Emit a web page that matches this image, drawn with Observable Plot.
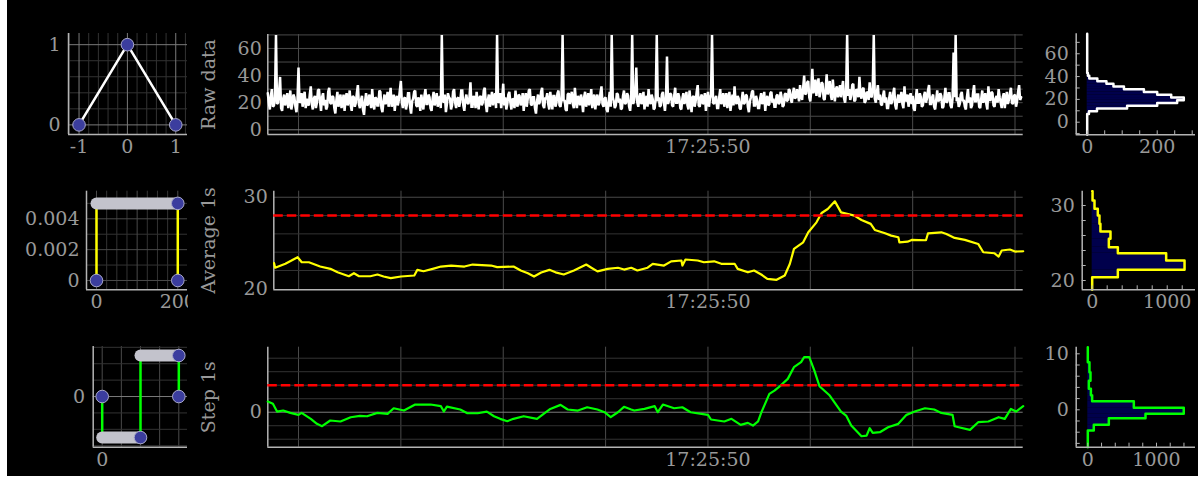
<!DOCTYPE html>
<html><head><meta charset="utf-8">
<script src="https://cdn.jsdelivr.net/npm/d3@7"></script>
<script src="https://cdn.jsdelivr.net/npm/@observablehq/plot@0.6"></script>
<style>
html,body{margin:0;padding:0;background:#fff;}
#stage{position:absolute;left:7px;top:0;width:1191px;height:476px;background:#000;overflow:hidden;}
</style></head>
<body><div id="stage"></div>
<script>
// ================= DATA =================
const rowLabels = ["Raw data", "Average 1s", "Step 1s"];
const timeTickValues = [0];
const timeTickLabels = ["17:25:50"];
const secondGrid = [-4, -3, -2, -1, 0, 1, 2, 3];

// raw samples (value per sample, sample period 0.01 s, first sample at -4.30 s)
const rawStart = -4.30, rawStep = 0.01;
const rawValues = [
27,20,15,25,30,17,18,24,70,19,20,28,39,16,14,23,26,18,22,27,16,21,29,15,19,26,24,17,13,22,46,20,21,27,17,24,28,16,23,19,
18,26,32,19,15,23,25,16,20,29,30,21,14,24,27,18,22,15,17,28,31,20,19,25,24,16,12,22,28,17,21,26,16,20,26,14,23,27,18,21,
29,18,14,25,24,17,20,27,33,19,16,22,25,15,11,21,27,18,19,26,22,16,30,20,15,24,23,18,18,29,28,16,13,21,26,19,21,28,17,23,
31,17,20,26,14,22,25,18,22,29,36,20,16,23,24,15,19,27,27,17,12,21,23,28,29,18,17,24,21,14,26,20,15,25,30,19,19,26,24,16,
14,23,28,18,22,27,17,21,25,16,70,22,20,26,13,19,27,24,23,15,18,28,30,20,16,23,24,17,21,29,29,18,14,22,26,20,19,24,35,17,
17,25,23,16,28,21,15,24,25,18,20,29,31,19,13,22,26,17,22,28,18,24,27,16,70,20,21,27,16,23,34,18,24,15,19,26,28,20,15,23,
22,16,29,20,17,26,25,18,20,27,14,22,27,17,23,29,30,19,18,24,24,16,12,21,26,19,21,28,31,18,16,23,23,27,19,15,28,21,15,25,
25,17,20,27,29,18,17,24,70,21,22,15,14,26,27,19,24,28,19,16,31,22,16,25,23,18,26,21,13,24,28,17,21,27,18,23,30,16,22,26,
15,22,26,18,20,27,32,19,17,23,24,15,13,21,28,17,70,24,21,16,18,27,26,20,23,15,16,25,29,19,20,27,25,17,14,23,70,19,22,28,
46,20,17,24,27,19,21,28,15,22,25,17,30,21,19,26,23,15,16,24,70,21,24,17,18,26,28,20,14,23,54,19,22,27,26,18,17,25,31,20,
20,27,24,16,15,23,27,19,22,28,18,15,29,21,13,24,25,17,21,28,33,18,17,24,26,19,20,27,14,22,28,17,23,26,70,20,19,23,25,16,
16,24,30,19,21,27,17,23,27,16,22,28,14,20,26,18,32,21,19,25,23,16,15,22,28,19,20,26,25,17,13,21,24,28,29,18,18,25,22,16,
16,23,27,19,21,28,14,22,25,18,19,27,28,20,23,17,17,25,26,19,20,28,24,17,18,26,27,21,22,30,29,22,20,27,31,23,24,30,26,21,
33,25,22,31,40,26,27,35,36,24,21,29,45,27,30,37,25,32,38,24,28,35,34,23,22,30,41,26,29,36,26,22,37,28,21,30,32,24,27,33,
24,31,36,23,20,28,70,25,30,22,25,33,34,21,22,30,29,24,39,26,23,30,31,20,21,28,27,22,35,25,24,31,70,23,20,27,33,22,26,19,
18,25,29,20,24,16,16,23,28,19,21,27,31,18,15,22,26,20,23,28,19,16,32,21,22,26,17,24,27,19,25,16,14,23,30,20,20,27,24,17,
18,25,28,20,23,29,33,19,19,24,26,17,15,22,29,21,22,27,25,16,17,24,31,20,21,27,27,18,16,23,57,24,70,21,24,17,19,26,28,21,
22,17,15,24,30,20,24,16,18,27,33,21,21,26,26,17,16,23,29,20,23,27,19,15,32,22,22,28,27,18,17,23,25,20,30,24,20,16,24,27,
16,23,28,19,22,27,31,20,19,25,26,17,21,28,33,22,24
];

// 1 s moving average (time in s relative to 17:25:50)
const avgTimes = [-4.24,-4.23,-4.13,-4.01,-3.97,-3.90,-3.79,-3.69,-3.62,-3.51,-3.46,-3.41,-3.30,-3.23,-3.17,-3.10,-3.00,-2.87,-2.84,-2.78,-2.69,-2.61,-2.51,-2.38,-2.30,-2.12,-2.06,-1.90,-1.83,-1.76,-1.70,-1.63,-1.55,-1.49,-1.41,-1.31,-1.19,-1.14,-1.08,-0.98,-0.88,-0.82,-0.75,-0.69,-0.59,-0.54,-0.43,-0.36,-0.26,-0.25,-0.22,-0.10,-0.04,0.06,0.13,0.26,0.29,0.39,0.45,0.52,0.58,0.67,0.75,0.80,0.84,0.93,0.98,1.06,1.11,1.17,1.24,1.30,1.37,1.43,1.50,1.59,1.63,1.73,1.79,1.86,1.87,1.95,1.99,2.13,2.15,2.28,2.33,2.41,2.51,2.64,2.69,2.80,2.84,2.87,2.95,3.00,3.08];
const avgValues = [22.8,22.3,22.73,23.45,22.9,22.9,22.43,22.18,21.8,21.37,21.7,21.37,21.37,21.56,21.34,21.16,21.34,21.45,22.07,21.92,22.18,22.43,22.54,22.43,22.65,22.54,22.36,22.43,22.0,21.7,21.34,21.78,22.07,21.8,21.56,22.0,22.65,22.3,21.9,22.18,22.3,22.1,22.3,22.0,22.3,22.73,22.54,23.0,23.09,22.54,23.2,23.09,22.9,23.0,22.73,22.73,22.18,21.8,22.0,21.56,21.09,20.98,21.45,22.73,24.36,25.08,26.17,27.26,28.28,28.72,29.55,28.35,28.17,27.99,27.52,27.09,26.43,26.06,25.81,25.63,25.08,25.15,25.34,25.3,26.06,26.17,25.99,25.56,25.34,24.9,23.99,23.88,23.52,24.18,24.29,24.07,24.1];
const avgThreshold = 28;

// 1 s step filter
const stepTimes = [-4.30,-4.25,-4.21,-4.15,-4.08,-4.00,-3.97,-3.88,-3.82,-3.77,-3.69,-3.59,-3.49,-3.40,-3.33,-3.23,-3.13,-3.07,-2.97,-2.86,-2.71,-2.61,-2.58,-2.55,-2.42,-2.35,-2.25,-2.16,-2.09,-2.03,-1.96,-1.90,-1.80,-1.67,-1.54,-1.44,-1.37,-1.27,-1.18,-1.08,-1.01,-0.95,-0.88,-0.82,-0.75,-0.72,-0.62,-0.52,-0.49,-0.44,-0.33,-0.25,-0.17,0.00,0.03,0.16,0.23,0.32,0.39,0.44,0.49,0.52,0.60,0.65,0.71,0.78,0.84,0.91,0.94,0.99,1.04,1.09,1.19,1.30,1.35,1.40,1.50,1.55,1.58,1.61,1.68,1.76,1.86,1.94,2.02,2.12,2.21,2.28,2.39,2.41,2.45,2.56,2.64,2.74,2.84,2.90,2.96,3.01,3.08];
const stepValues = [1.58,1.24,0.1,0.25,-0.1,-0.39,-0.1,-0.98,-1.72,-2.07,-1.23,-1.37,-0.74,-0.54,-0.6,-0.1,-0.25,0.59,0.25,1.14,1.14,0.9,0.1,0.84,0.4,-0.15,-0.15,0.1,-0.59,-0.98,-1.33,-0.98,-0.59,-0.98,0.49,1.09,0.4,0.25,0.74,0.4,0,-0.74,0,0.8,0.4,0.25,0.49,0.9,0,1.14,0.59,0.74,0,-0.39,-1.08,-1.37,-0.98,-1.87,-1.58,-1.97,-1.37,-0.1,2.72,3.21,3.95,4.94,6.67,7.41,8.15,8.15,6.17,3.85,2.47,0.1,-0.49,-1.97,-3.56,-3.46,-2.37,-3.06,-2.96,-2.22,-1.72,-0.39,0.1,0.59,0.4,-0.1,-0.39,-2.07,-2.22,-2.61,-1.48,-1.37,-0.74,-0.98,0.49,0.1,0.9];
const stepThreshold = 4;

// kernels
const triX = [-1, 0, 1];
const triY = [0, 1, 0];
const avgKernelX = [0, 0, 200, 200];
const avgKernelY = [0, 0.005, 0.005, 0];
const avgKernelBarX1 = [0], avgKernelBarX2 = [200], avgKernelBarY = [0.005];
const avgKernelDotX = [0, 200, 200], avgKernelDotY = [0, 0.005, 0];
const stepKernelX = [0, 0, 200, 200, 400, 400];
const stepKernelY = [0, -0.005, -0.005, 0.005, 0.005, 0];
const stepKernelBarX1 = [0, 200], stepKernelBarX2 = [200, 400], stepKernelBarY = [-0.005, 0.005];
const stepKernelDotX = [0, 200, 400, 400], stepKernelDotY = [0, -0.005, 0.005, 0];

// histograms (bin edges along value axis, counts)
const rawHistEdges = [7.2,9.6,12.0,14.4,16.8,19.2,21.6,24.0,26.4,28.8,31.2,33.6,36.0,38.4,40.8,43.2];
const rawHistCounts = [5,28,114,200,257,276,240,200,162,105,75,55,29,6,2];
const avgHistEdges = [20.44,21.42,22.67,23.64,24.44,25.56,26.53,27.56,28.67,29.56,30.67,31.9];
const avgHistCounts = [342,1231,986,342,222,244,110,97,75,31,5];
const stepHistEdges = [-3.7,-2.68,-1.5,-0.71,0.36,1.54,2.6,3.75,5.2,6.7,8.5];
const stepHistCounts = [87,306,840,1397,670,63,45,15,39,24];

// tick values
const triXTicks = [-1, 0, 1], triYTicks = [0, 1];
const avgKXTicks = [0, 200], avgKYTicks = [0, 0.002, 0.004];
const stepKXTicks = [0], stepKYTicks = [0];
const rawYTicks = [0, 20, 40, 60], avgYTicks = [20, 30], stepYTicks = [0];
const rawHistXTicks = [0, 200], rawHistYTicks = [0, 20, 40, 60];
const avgHistXTicks = [0, 1000], avgHistYTicks = [20, 30];
const stepHistXTicks = [0, 1000], stepHistYTicks = [0, 10];

// ================= STYLE / LAYOUT =================
const STAGE_LEFT = 7, STAGE_TOP = 0;
const FONT = "'DejaVu Serif', serif";
const TEXT = "#999";
const SPINE = "#b4b4b4";
const GRID_MINOR = "#333";
const GRID_MID = "#4a4a4a";
const GRID_MAJOR = "#7a7a7a";
const DOT_FILL = "#3b3d9e", DOT_STROKE = "#a8a8c8";
const BAR = "#c3c3cc";
const HIST_FILL = "#00004c";
const stage = document.getElementById("stage");

function range(a, b, s) { const out = []; for (let v = a; v <= b + 1e-9; v += s) out.push(+v.toFixed(6)); return out; }

function panel({left, top, width, height, frame, xDomain, yDomain, marks}) {
  const [fx0, fx1, fy0, fy1] = frame;
  const svg = Plot.plot({
    width, height,
    marginLeft: fx0 - left, marginRight: left + width - fx1,
    marginTop: fy0 - top, marginBottom: top + height - fy1,
    x: {type: "linear", domain: xDomain},
    y: {type: "linear", domain: yDomain},
    style: {background: "#000", color: TEXT, fontFamily: FONT, fontSize: "19px"},
    marks
  });
  svg.style.position = "absolute";
  svg.style.left = (left - STAGE_LEFT) + "px";
  svg.style.top = (top - STAGE_TOP) + "px";
  stage.appendChild(svg);
}
const spines = (xd, yd) => [
  Plot.ruleX([xd[0]], {stroke: SPINE, strokeWidth: 1.5}),
  Plot.ruleY([yd[0]], {stroke: SPINE, strokeWidth: 1.5})
];
const xLab = (vals, fmt, pad = 5) => Plot.axisX(vals, {tickSize: 0, tickPadding: pad, tickFormat: fmt || (d => String(d)), label: null});
const yLab = (vals, pad = 7) => Plot.axisY(vals, {tickSize: 0, tickPadding: pad, tickFormat: d => String(d), label: null});
const xIn = (vals) => Plot.axisX(vals, {tickSize: -4, tickPadding: 0, tickFormat: () => "", label: null, stroke: SPINE});
const yIn = (vals) => Plot.axisY(vals, {tickSize: -4, tickPadding: 0, tickFormat: () => "", label: null, stroke: SPINE});
const grid = (k, vals, color) => (k === "x" ? Plot.gridX : Plot.gridY)(vals, {stroke: color, strokeOpacity: 1, strokeWidth: 1});
const pts = (xs, ys) => xs.map((x, i) => ({x, y: ys[i]}));
const bars = (x1, x2, y) => x1.map((a, i) => ({x1: a, x2: x2[i], y: y[i]}));
function histOutline(edges, counts, yd) {
  const p = [{c: 0, y: yd[0]}, {c: 0, y: edges[0]}];
  counts.forEach((c, i) => { p.push({c, y: edges[i]}, {c, y: edges[i + 1]}); });
  p.push({c: 0, y: edges[edges.length - 1]}, {c: 0, y: yd[1]});
  return p;
}
const histBins = (edges, counts) => counts.map((c, i) => ({c, lo: edges[i], hi: edges[i + 1]}));
const rowLabel = (text, dx) => Plot.text([text], {frameAnchor: "left", dx, rotate: -90, textAnchor: "middle", lineAnchor: "middle", text: d => d, fill: TEXT, fontSize: 19});
const timeFmt = d => timeTickLabels[timeTickValues.indexOf(d)];

// ================= KERNELS =================
{
  const xd = [-1.218, 1.243], yd = [-0.12, 1.1395];
  panel({left: 20, top: 20, width: 168, height: 145, frame: [68, 187, 33, 134], xDomain: xd, yDomain: yd, marks: [
    grid("x", range(-1.2, 1.2, 0.2).filter(v => !triXTicks.includes(v)), GRID_MINOR),
    grid("y", range(0, 1, 0.2).filter(v => !triYTicks.includes(v)), GRID_MINOR),
    grid("x", triXTicks, GRID_MAJOR), grid("y", triYTicks, GRID_MAJOR),
    ...spines(xd, yd),
    Plot.line(pts(triX, triY), {x: "x", y: "y", stroke: "#fff", strokeWidth: 2.5}),
    Plot.dot(pts(triX, triY), {x: "x", y: "y", r: 6.3, fill: DOT_FILL, stroke: DOT_STROKE, strokeWidth: 1}),
    xLab(triXTicks), yLab(triYTicks, 8)
  ]});
}
{
  const xd = [-24.6, 223.9], yd = [-0.000603, 0.00579];
  panel({left: 20, top: 175, width: 168, height: 145, frame: [86, 187, 190.7, 289.3], xDomain: xd, yDomain: yd, marks: [
    grid("x", range(25, 175, 25).filter(v => v !== 100), GRID_MINOR),
    grid("y", [0.001, 0.003, 0.005], GRID_MINOR),
    grid("x", [0, 100, 200], GRID_MID), grid("y", avgKYTicks, GRID_MID),
    ...spines(xd, yd),
    Plot.line(pts(avgKernelX, avgKernelY), {x: "x", y: "y", stroke: "#ffff00", strokeWidth: 2.5}),
    Plot.link(bars(avgKernelBarX1, avgKernelBarX2, avgKernelBarY), {x1: "x1", x2: "x2", y1: "y", y2: "y", stroke: BAR, strokeWidth: 12, strokeLinecap: "round"}),
    Plot.dot(pts(avgKernelDotX, avgKernelDotY), {x: "x", y: "y", r: 6.3, fill: DOT_FILL, stroke: DOT_STROKE, strokeWidth: 1}),
    xLab(avgKXTicks), yLab(avgKYTicks, 7)
  ]});
}
{
  const xd = [-47, 445.4], yd = [-0.00618, 0.0061];
  panel({left: 20, top: 330, width: 168, height: 145, frame: [92.7, 187, 346, 446.7], xDomain: xd, yDomain: yd, marks: [
    grid("x", [0, 100, 200, 300, 400], GRID_MID),
    grid("y", [-0.006, -0.004, -0.002, 0.002, 0.004, 0.006], GRID_MINOR),
    grid("y", stepKYTicks, GRID_MAJOR),
    ...spines(xd, yd),
    Plot.line(pts(stepKernelX, stepKernelY), {x: "x", y: "y", stroke: "#00ff00", strokeWidth: 2.5}),
    Plot.link(bars(stepKernelBarX1, stepKernelBarX2, stepKernelBarY), {x1: "x1", x2: "x2", y1: "y", y2: "y", stroke: BAR, strokeWidth: 12, strokeLinecap: "round"}),
    Plot.dot(pts(stepKernelDotX, stepKernelDotY), {x: "x", y: "y", r: 6.3, fill: DOT_FILL, stroke: DOT_STROKE, strokeWidth: 1}),
    xLab(stepKXTicks), yLab(stepKYTicks, 8)
  ]});
}

// ================= TIME SERIES =================
{
  const xd = [-4.30, 3.08], yd = [-3.47, 70.3];
  const raw = rawValues.map((v, i) => ({t: rawStart + i * rawStep, v}));
  panel({left: 188, top: 20, width: 842, height: 145, frame: [267.3, 1022.7, 34, 134], xDomain: xd, yDomain: yd, marks: [
    grid("x", secondGrid, GRID_MID),
    grid("y", [10, 20, 30, 40, 50, 60, 70], GRID_MID),
    grid("y", [0], GRID_MAJOR),
    ...spines(xd, yd),
    Plot.line(raw, {x: "t", y: "v", stroke: "#fff", strokeWidth: 2.5, strokeLinejoin: "miter", strokeMiterlimit: 2}),
    yLab(rawYTicks, 6), xLab(timeTickValues, timeFmt, 5),
    rowLabel(rowLabels[0], -59)
  ]});
}
{
  const xd = [-4.243, 3.08], yd = [19.89, 30.66];
  panel({left: 188, top: 175, width: 842, height: 145, frame: [273.3, 1022.7, 190.7, 289.3], xDomain: xd, yDomain: yd, marks: [
    grid("x", secondGrid, GRID_MID),
    grid("y", [22, 24, 26, 28], GRID_MINOR),
    grid("y", [30], GRID_MID),
    ...spines(xd, yd),
    Plot.line(pts(avgTimes, avgValues), {x: "x", y: "y", stroke: "#ffff00", strokeWidth: 2.2}),
    Plot.ruleY([avgThreshold], {stroke: "#ff0000", strokeWidth: 2.4, strokeDasharray: "9.5,4"}),
    yLab(avgYTicks, 6), xLab(timeTickValues, timeFmt, 5),
    rowLabel(rowLabels[1], -65)
  ]});
}
{
  const xd = [-4.30, 3.08], yd = [-5.18, 9.63];
  panel({left: 188, top: 330, width: 842, height: 145, frame: [267.3, 1022.7, 346.7, 446.7], xDomain: xd, yDomain: yd, marks: [
    grid("x", secondGrid, GRID_MID),
    grid("y", [-4, -2, 2, 4, 6, 8], GRID_MINOR),
    grid("y", [0], GRID_MAJOR),
    ...spines(xd, yd),
    Plot.line(pts(stepTimes, stepValues), {x: "x", y: "y", stroke: "#00ff00", strokeWidth: 2.2}),
    Plot.ruleY([stepThreshold], {stroke: "#ff0000", strokeWidth: 2.4, strokeDasharray: "9.5,4"}),
    yLab(stepYTicks, 6), xLab(timeTickValues, timeFmt, 5),
    rowLabel(rowLabels[2], -59)
  ]});
}

// ================= HISTOGRAMS =================
function histPanel({top, frame, xd, yd, edges, counts, color, xTicks, yTicks, xMinor, yMinor}) {
  panel({left: 1030, top, width: 168, height: 145, frame, xDomain: xd, yDomain: yd, marks: [
    Plot.rect(histBins(edges, counts), {x1: () => 0, x2: "c", y1: "lo", y2: "hi", fill: HIST_FILL}),
    Plot.line(histOutline(edges, counts, yd), {x: "c", y: "y", stroke: color, strokeWidth: 2.5, curve: "linear"}),
    ...spines(xd, yd),
    xIn(xMinor), yIn(yMinor),
    xLab(xTicks), yLab(yTicks, 7.4)
  ]});
}
histPanel({top: 20, frame: [1075.7, 1195, 33.3, 134.3], xd: [-31.4, 309.4], yd: [-11.05, 77.5],
  edges: rawHistEdges, counts: rawHistCounts, color: "#fff", xTicks: rawHistXTicks, yTicks: rawHistYTicks,
  xMinor: range(0, 300, 50), yMinor: range(-10, 70, 10)});
histPanel({top: 175, frame: [1081.7, 1195, 190.7, 289.3], xd: [-133, 1377], yd: [18.76, 31.91],
  edges: avgHistEdges, counts: avgHistCounts, color: "#ffff00", xTicks: avgHistXTicks, yTicks: avgHistYTicks,
  xMinor: range(0, 1200, 200), yMinor: range(20, 30, 2)});
histPanel({top: 330, frame: [1075.7, 1195, 346.7, 446.7], xd: [-169, 1568], yd: [-6.68, 11.18],
  edges: stepHistEdges, counts: stepHistCounts, color: "#00ff00", xTicks: stepHistXTicks, yTicks: stepHistYTicks,
  xMinor: range(0, 1400, 200), yMinor: range(-6, 10, 2)});
</script>
</body></html>
